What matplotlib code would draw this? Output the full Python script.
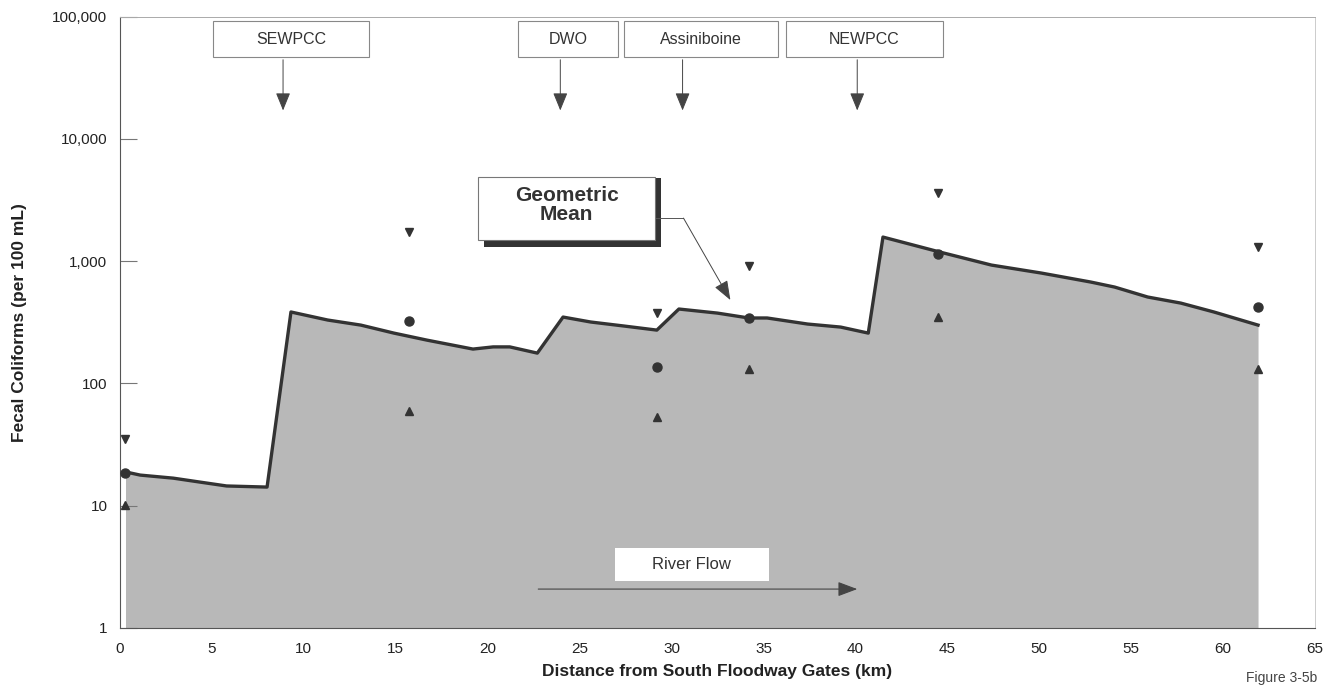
import numpy as np
import matplotlib.pyplot as plt
from matplotlib.patches import Rectangle
import matplotlib.transforms as mtransforms

plt.rcParams['font.family'] = ['Liberation Sans', 'DejaVu Sans']

# Geometric mean profile along the river (km, fecal coliforms per 100 mL)
dist_km = [0.3, 1.1, 2.9, 4.35, 5.8, 8.0, 9.3, 11.3, 13.1, 14.9, 16.7, 19.2, 20.3,
           21.2, 22.7, 24.1, 25.6, 27.4, 29.2, 30.4, 32.5, 34.2, 35.2, 37.4, 39.2,
           40.7, 41.5, 44.6, 47.4, 50.1, 52.8, 54.1, 55.9, 57.7, 59.5, 61.9]
geo_mean = [18.9, 17.8, 16.8, 15.6, 14.5, 14.2, 384, 330, 300, 258, 226, 191, 199,
            199, 177, 349, 318, 295, 273, 406, 376, 343, 343, 306, 289,
            258, 1574, 1187, 929, 800, 675, 614, 509, 454, 384, 300]

# Sampling sites: maximum, mean and minimum
site_km = [0.3, 15.7, 29.2, 34.2, 44.5, 61.9]
site_max = [35, 1730, 376, 912, 3600, 1300]
site_mean = [18.5, 324, 136, 343, 1140, 421]
site_min = [10.1, 59, 53, 131, 349, 131]

# Outfalls along the river
outfall_names = ["SEWPCC", "DWO", "Assiniboine", "NEWPCC"]
outfall_km = [8.87, 23.95, 30.6, 40.1]
box_left = [5.05, 21.65, 27.4, 36.2]
box_right = [13.55, 27.1, 35.8, 44.75]

x_ticks = list(range(0, 70, 5))
y_ticks = [1, 10, 100, 1000, 10000, 100000]
y_labels = ["1", "10", "100", "1,000", "10,000", "100,000"]

dark = '#333333'

fig = plt.figure(figsize=(13.39, 6.9), dpi=100)
ax = fig.add_axes([0.0896, 0.0899, 0.8925, 0.886])
ax.set_yscale('log')
ax.set_xlim(0, 65)
ax.set_ylim(1, 100000)

# 1. Shaded profile
ax.fill_between(dist_km, geo_mean, 1, color='#b8b8b8', lw=0, zorder=1)
ax.plot(dist_km, geo_mean, color=dark, lw=2.4, zorder=3)

# 2. Site markers
ax.plot(site_km, site_max, 'v', color=dark, ms=6, ls='none', zorder=4)
ax.plot(site_km, site_mean, 'o', color=dark, ms=6.5, ls='none', zorder=4)
ax.plot(site_km, site_min, '^', color=dark, ms=6, ls='none', zorder=4)

# 3. Axes
ax.set_xticks(x_ticks)
ax.set_xticklabels([str(t) for t in x_ticks])
ax.set_yticks(y_ticks)
ax.set_yticklabels(y_labels)
ax.minorticks_off()
ax.tick_params(axis='x', length=0, pad=10, labelsize=11, colors='#222222')
ax.tick_params(axis='y', direction='in', length=12, width=0.8, color='#777777',
               pad=9, labelsize=11, labelcolor='#222222')
ax.set_xlabel("Distance from South Floodway Gates (km)", fontsize=12.5,
              fontweight='bold', color='#222222', labelpad=6)
ax.set_ylabel("Fecal Coliforms (per 100 mL)", fontsize=12.5, fontweight='bold',
              color='#222222', labelpad=18)
ax.spines['left'].set_color('#555555')
ax.spines['bottom'].set_color('#555555')
ax.spines['top'].set_color('#aaaaaa')
ax.spines['right'].set_color('#cccccc')
for s in ['top', 'right']:
    ax.spines[s].set_linewidth(0.7)

# 4. Outfall boxes and arrows
trans = mtransforms.blended_transform_factory(ax.transData, ax.transAxes)
for name, xk, x0, x1 in zip(outfall_names, outfall_km, box_left, box_right):
    ax.add_patch(Rectangle((x0, 0.934), x1 - x0, 0.059, transform=trans,
                           facecolor='white', edgecolor='#888888', lw=0.8, zorder=5))
    ax.text((x0 + x1) / 2, 0.963, name, transform=trans, ha='center', va='center',
            fontsize=11.5, color='#333333', zorder=6)
    ax.annotate("", xy=(xk, 0.842), xycoords=trans, xytext=(xk, 0.934),
                textcoords=trans,
                arrowprops=dict(arrowstyle='-|>,head_length=1.1,head_width=0.45',
                                color='#444444', lw=0.7), zorder=5)

# 5. Geometric mean label
ax.add_patch(Rectangle((19.8, 1300), 9.6, 3500, facecolor='#333333', lw=0, zorder=5))
ax.add_patch(Rectangle((19.5, 1489), 9.6, 3386, facecolor='white',
                       edgecolor='#777777', lw=0.8, zorder=6))
ax.text(24.3, 2900, "Geometric\nMean", ha='center', va='center', fontsize=15,
        fontweight='bold', color='#333333', linespacing=1.0, zorder=7)
ax.plot([29.1, 30.65], [2250, 2250], color='#555555', lw=0.7, zorder=5)
ax.annotate("", xy=(33.2, 481), xytext=(30.65, 2250),
            arrowprops=dict(arrowstyle='-|>,head_length=1.2,head_width=0.45',
                            color='#444444', lw=0.7, shrinkA=0, shrinkB=0), zorder=5)

# 6. River flow
ax.add_patch(Rectangle((26.9, 2.42), 8.4, 2.1, facecolor='white', lw=0, zorder=5))
ax.text(31.1, 3.3, "River Flow", ha='center', va='center', fontsize=12,
        color='#333333', zorder=6)
ax.annotate("", xy=(40.1, 2.08), xytext=(22.75, 2.08),
            arrowprops=dict(arrowstyle='-|>,head_length=1.2,head_width=0.45',
                            color='#444444', lw=0.8, shrinkA=0, shrinkB=0), zorder=5)

fig.text(0.957, 0.017, "Figure 3-5b", ha='center', va='center', fontsize=10,
         color='#444444')

fig.savefig("out.png", dpi=100)
